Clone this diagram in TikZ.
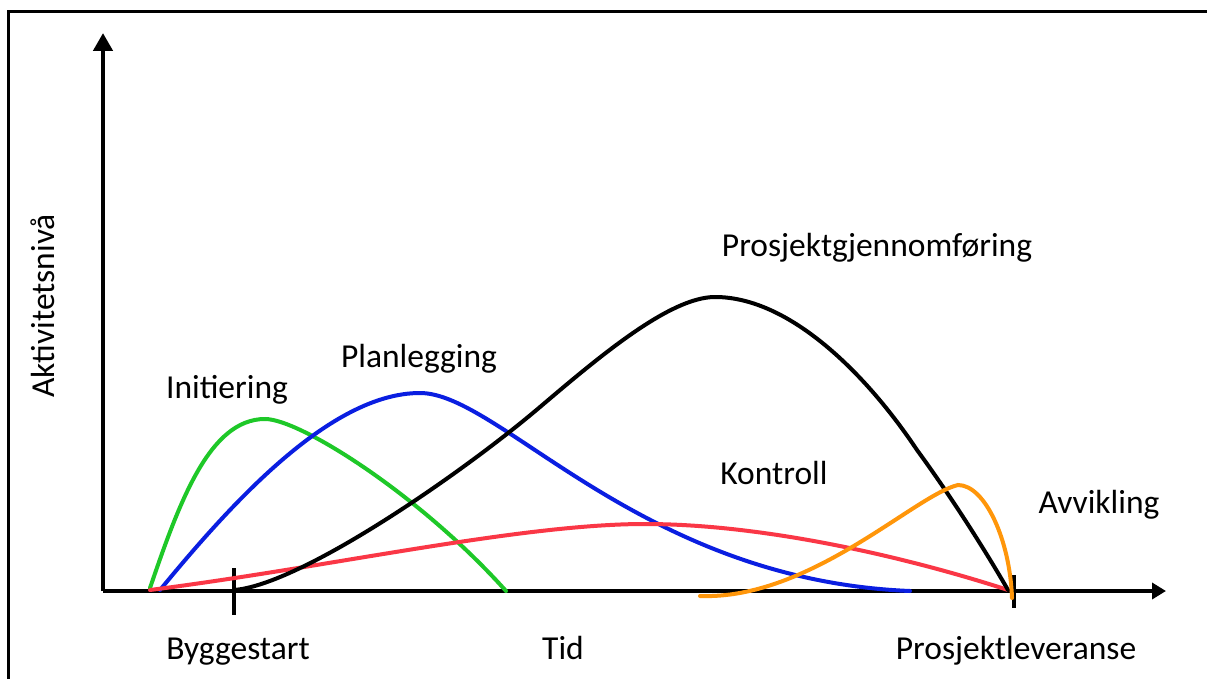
\documentclass[tikz,border=0pt]{standalone}
\usepackage{fontspec}
\setmainfont{Carlito}
\usetikzlibrary{arrows.meta}
\definecolor{cgreen}{RGB}{30,200,40}
\definecolor{cblue}{RGB}{10,30,225}
\definecolor{cred}{RGB}{250,55,70}
\definecolor{corange}{RGB}{255,150,10}
\begin{document}
\begin{tikzpicture}[x=1pt,y=-1pt,
  lbl/.style={anchor=base, inner sep=0pt, font=\fontsize{33.5}{40}\selectfont},
  curve/.style={line width=4pt, line cap=round},
  axis/.style={line width=4.5pt}]
\useasboundingbox (0,0) rectangle (1207,679);
\fill[white] (0,0) rectangle (1207,679);
% frame
\draw[line width=3pt] (8,700) -- (8,12) -- (1230,12);
% axes
\coordinate (origin) at (103,591);
\coordinate (ytip) at (103,33);
\coordinate (xtip) at (1166,591);
\draw[axis, -{Triangle[length=18pt,width=19pt]}] (origin) -- (ytip);
\draw[axis, -{Triangle[length=14pt,width=16pt]}] (origin) -- (xtip);
% ticks
\coordinate (t1a) at (234,568); \coordinate (t1b) at (234,615);
\coordinate (t2a) at (1014,575); \coordinate (t2b) at (1014,608);
\draw[axis] (t1a) -- (t1b);
\draw[axis] (t2a) -- (t2b);
% curves
\draw[curve, cgreen] (150,588) .. controls (180,500) and (210,419) .. (265,419)
  .. controls (300,419) and (420,495) .. (506,591);
\draw[curve, cblue] (160,590) .. controls (230,505) and (330,393) .. (420,393)
  .. controls (500,393) and (640,580) .. (910,591);
\draw[curve, cred] (150,590) .. controls (330,567) and (520,524) .. (645,524)
  .. controls (760,524) and (900,555) .. (1008,590);
\draw[curve, black] (234,590) .. controls (300,585) and (460,475) .. (540,407)
  .. controls (600,356) and (670,297) .. (715,297)
  .. controls (790,297) and (867,375) .. (917,450)
  .. controls (950,495) and (985,550) .. (1008,590);
\draw[curve, corange] (700,596) .. controls (810,600) and (915,495) .. (958,485)
  .. controls (985,485) and (1010,540) .. (1012,598);
% labels
\node[lbl] (byggestart) at (238,659) {Byggestart};
\node[lbl] (tid) at (563,659) {Tid};
\node[lbl] (leveranse) at (1016,659) {Prosjektleveranse};
\node[lbl] (avvikling) at (1099,513) {Avvikling};
\node[lbl] (kontroll) at (774,484) {Kontroll};
\node[lbl] (gjennomforing) at (877,256) {Prosjektgjennomføring};
\node[lbl] (planlegging) at (419,367) {Planlegging};
\node[lbl] (initiering) at (227,398) {Initiering};
\node[lbl, rotate=90] (aktivitet) at (54,306) {Aktivitetsnivå};
\end{tikzpicture}
\end{document}
